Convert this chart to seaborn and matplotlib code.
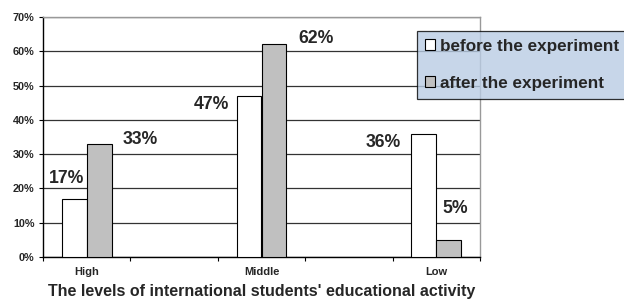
import matplotlib
matplotlib.use("Agg")
import matplotlib.pyplot as plt
import seaborn as sns
import pandas as pd
from matplotlib.ticker import FixedLocator, PercentFormatter

# data
levels = ["High", "Middle", "Low"]
before = [17, 47, 36]
after = [33, 62, 5]
series = ["before the experiment", "after the experiment"]
# empty slots between the categories, like the original Excel chart
order = ["High", "gap1", "Middle", "gap2", "Low"]
tick_labels = ["High", "", "Middle", "", "Low"]

df = pd.DataFrame({
    "level": levels * 2,
    "value": before + after,
    "series": [series[0]] * 3 + [series[1]] * 3,
})

sns.set_style("white")
plt.rcParams["font.family"] = ["Liberation Sans", "DejaVu Sans"]
plt.rcParams["font.weight"] = "bold"
plt.rcParams["axes.labelweight"] = "bold"

fig = plt.figure(figsize=(6.24, 3.0), dpi=100)
ax = fig.add_axes([43 / 624, 43 / 300, 437 / 624, 240 / 300])

sns.barplot(
    data=df, x="level", y="value", hue="series", order=order,
    hue_order=series, palette=["white", "#c0c0c0"], width=0.57,
    edgecolor="black", linewidth=0.8, ax=ax, legend=False, zorder=3,
)

ax.set_ylim(0, 70)
ax.set_xlim(-0.5, 4.5)
ax.yaxis.set_major_locator(FixedLocator(range(0, 71, 10)))
ax.yaxis.set_major_formatter(PercentFormatter(decimals=0))
ax.grid(axis="y", color="#333333", linewidth=0.9, zorder=0)
ax.set_axisbelow(True)

ax.set_xticks(range(5))
ax.set_xticklabels(tick_labels, fontweight="bold")
ax.xaxis.set_minor_locator(FixedLocator([-0.5, 0.5, 1.5, 2.5, 3.5, 4.5]))
ax.tick_params(axis="x", which="major", length=0, pad=7, labelsize=8)
ax.tick_params(axis="x", which="minor", length=3, width=0.8, color="black",
               direction="out", bottom=True)
ax.tick_params(axis="y", length=3, width=0.8, color="black", direction="out",
               left=True, labelsize=7.8, pad=3)
for t in ax.get_yticklabels():
    t.set_fontweight("bold")

for side in ["left", "bottom"]:
    ax.spines[side].set_color("black")
    ax.spines[side].set_linewidth(1.0)
for side in ["top", "right"]:
    ax.spines[side].set_color("#999999")
    ax.spines[side].set_linewidth(1.0)

ax.set_xlabel("The levels of international students' educational activity",
              fontsize=11.5, fontweight="bold", labelpad=5)
ax.set_ylabel("")

# value labels: before-labels hang off the left bar edge, after-labels off the right edge
offsets_before = [(22, 20), (-7, -9), (-11, -9)]
offsets_after = [(11, 4), (12, 6), (-19, 31)]
for i, (bars, vals, offs) in enumerate(zip(ax.containers, [before, after],
                                           [offsets_before, offsets_after])):
    for bar, v, (dx, dy) in zip(bars, vals, offs):
        x = bar.get_x() if i == 0 else bar.get_x() + bar.get_width()
        ax.annotate(f"{v}%", (x, v), xytext=(dx, dy), textcoords="offset pixels",
                    ha="right" if i == 0 else "left", va="center",
                    fontsize=12.7, fontweight="bold", annotation_clip=False)

handles = [plt.Rectangle((0, 0), 1, 1, facecolor=c, edgecolor="black", linewidth=0.8)
           for c in ["white", "#c0c0c0"]]
leg = fig.legend(handles, series, loc="upper left",
                 bbox_to_anchor=(417 / 624, 1 - 31 / 300), frameon=True,
                 fancybox=False, fontsize=12.3, handlelength=0.6,
                 handleheight=0.6, handletextpad=0.3, labelspacing=1.3,
                 borderpad=0.45, borderaxespad=0)
leg.get_frame().set_facecolor("#b9cce4")
leg.get_frame().set_edgecolor("black")
leg.get_frame().set_linewidth(0.9)

fig.savefig("out.png", dpi=100)
